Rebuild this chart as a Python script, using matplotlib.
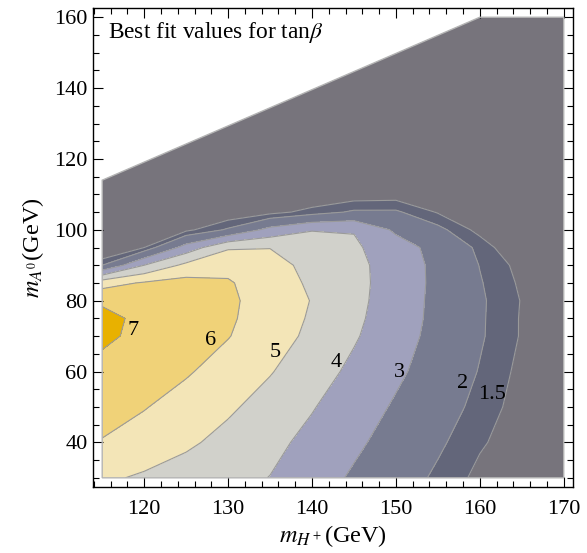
import numpy as np
import matplotlib.pyplot as plt
from matplotlib.patches import Polygon
from matplotlib.ticker import MultipleLocator

plt.rcParams['font.family'] = ['Liberation Serif', 'DejaVu Serif']
plt.rcParams['mathtext.fontset'] = 'stix'

#----------------------------------------------------------------------------------------------------------------------
# Data (best fit tan(beta))

m_H = np.array([115, 120, 125, 130, 135, 140, 145, 150, 155, 160, 165, 170])
m_A = np.array([30, 40, 50, 60, 70, 75, 80, 85, 90, 95, 100, 105, 110, 120, 140, 160])

tanb = np.array([
    [5.16, 4.87, 4.58, 4.28, 3.98, 3.42, 2.88, 2.39, 1.87, 1.35, 1.00, 0.80],
    [5.95, 5.58, 5.16, 4.71, 4.25, 3.74, 3.17, 2.64, 2.12, 1.57, 1.20, 0.90],
    [6.36, 6.05, 5.61, 5.15, 4.62, 4.06, 3.47, 2.89, 2.35, 1.80, 1.25, 0.90],
    [6.76, 6.42, 6.10, 5.59, 5.06, 4.43, 3.79, 3.17, 2.57, 1.96, 1.34, 1.00],
    [7.15, 6.80, 6.41, 6.04, 5.44, 4.79, 4.10, 3.39, 2.71, 2.08, 1.45, 1.10],
    [7.30, 6.75, 6.44, 6.12, 5.58, 4.88, 4.20, 3.47, 2.75, 2.09, 1.45, 1.10],
    [6.85, 6.50, 6.30, 6.15, 5.63, 4.96, 4.27, 3.51, 2.76, 2.10, 1.47, 1.10],
    [5.60, 6.10, 6.35, 6.10, 5.45, 4.86, 4.28, 3.57, 2.77, 2.05, 1.40, 1.10],
    [2.00, 4.00, 5.25, 5.70, 5.30, 4.76, 4.25, 3.58, 2.75, 1.98, 1.30, 1.05],
    [0.60, 1.50, 3.40, 4.90, 4.98, 4.60, 4.15, 3.44, 2.67, 1.85, 0.85, 0.80],
    [0.50, 0.80, 1.35, 2.10, 3.30, 3.95, 3.95, 2.83, 2.20, 1.30, 0.80, 0.60],
    [0.45, 0.55, 0.75, 1.00, 1.30, 1.70, 2.10, 2.10, 1.45, 1.00, 0.70, 0.55],
    [0.40, 0.50, 0.60, 0.70, 0.80, 0.95, 1.15, 1.20, 1.00, 0.80, 0.60, 0.50],
    [0.35, 0.40, 0.45, 0.50, 0.55, 0.60, 0.65, 0.70, 0.65, 0.60, 0.50, 0.45],
    [0.30, 0.32, 0.35, 0.38, 0.40, 0.42, 0.45, 0.48, 0.50, 0.48, 0.45, 0.42],
    [0.30, 0.30, 0.32, 0.34, 0.36, 0.38, 0.40, 0.42, 0.44, 0.44, 0.42, 0.40],
])

# allowed region (upper edge of the scanned area)
edge_mH = [115, 115, 160, 170, 170]
edge_mA = [30, 114, 160, 160, 30]

levels = [0, 1.5, 2, 3, 4, 5, 6, 7, 10]
line_levels = [1.5, 2, 3, 4, 5, 6, 7]
label_text = ['7', '6', '5', '4', '3', '2', '1.5']

#----------------------------------------------------------------------------------------------------------------------
# Styles

colors = ['#77747c', '#63667a', '#777b90', '#a0a1bd', '#d1d1cb', '#f3e5b7', '#f0d278', '#e8b100']
label_pos = [(118.7, 71.5), (127.9, 68.7), (135.6, 65.4), (142.9, 62.5),
             (150.4, 59.7), (157.9, 56.6), (161.4, 53.6)]

#----------------------------------------------------------------------------------------------------------------------
# Plot

fig = plt.figure(figsize=(5.87, 5.53), dpi=100)
ax = fig.add_axes([0.1584, 0.1193, 0.8177, 0.8662])

region = Polygon(np.column_stack([edge_mH, edge_mA]), closed=True, transform=ax.transData,
                 facecolor='none', edgecolor='#b4b4b4', linewidth=1.0, zorder=3)
ax.add_patch(region)

cf = ax.contourf(m_H, m_A, tanb, levels=levels, colors=colors)
cl = ax.contour(m_H, m_A, tanb, levels=line_levels, colors='#9a9a9a', linewidths=0.8)
cf.set_clip_path(region)
cl.set_clip_path(region)

for txt, (x, y) in zip(label_text, label_pos):
    ax.text(x, y, txt, fontsize=16, ha='center', va='center', color='black', zorder=4)

ax.text(0.031, 0.975, r'Best fit values for tan$\beta$', transform=ax.transAxes,
        fontsize=16.8, ha='left', va='top')

ax.set_xlim(113.9, 171.1)
ax.set_ylim(27.4, 162.6)

ax.xaxis.set_minor_locator(MultipleLocator(2))
ax.yaxis.set_minor_locator(MultipleLocator(5))
ax.set_xticks(np.arange(120, 171, 10))
ax.set_yticks(np.arange(40, 161, 20))
ax.tick_params(which='both', direction='in', top=True, right=True, labelsize=16, width=0.8)
ax.tick_params(which='major', length=7)
ax.tick_params(axis='x', which='major', pad=9)
ax.tick_params(axis='y', which='major', pad=4)
ax.tick_params(which='minor', length=4)
for s in ax.spines.values():
    s.set_linewidth(1.0)

ax.set_xlabel(r'$m_{H^+}$(GeV)', fontsize=17.5, labelpad=3)
ax.set_ylabel(r'$m_{A^0}$(GeV)', fontsize=17.5, labelpad=6)

fig.savefig('out.png', dpi=100)
